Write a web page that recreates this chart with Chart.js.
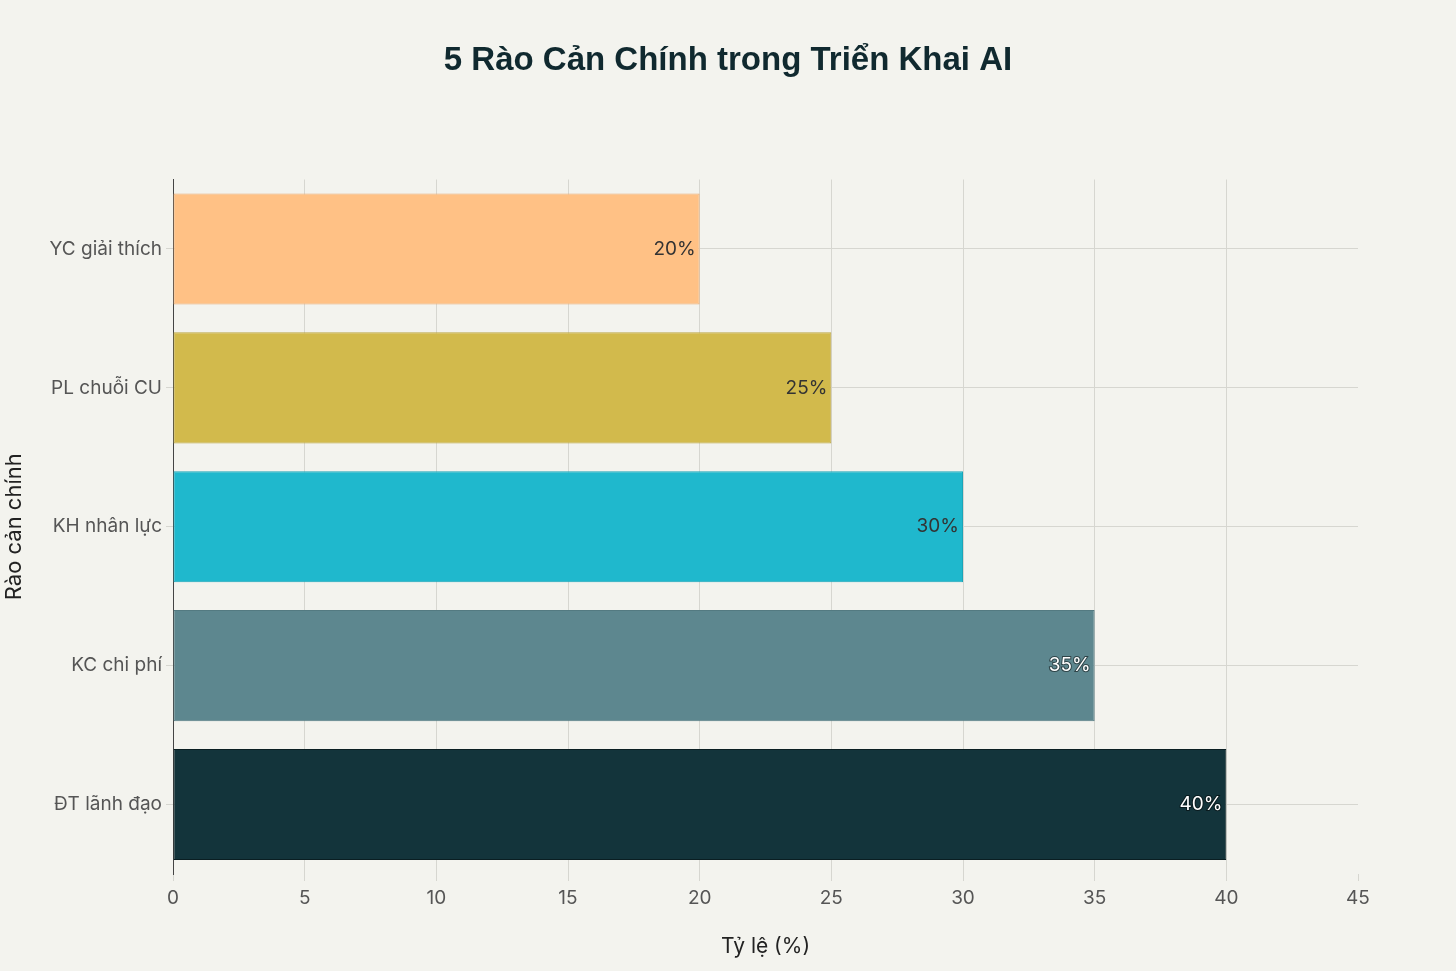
<!DOCTYPE html>
<html lang="vi">
<head>
<meta charset="utf-8">
<title>5 Rào Cản Chính trong Triển Khai AI</title>
<script src="https://cdn.jsdelivr.net/npm/chart.js@4.4.1/dist/chart.umd.min.js"></script>
<style>
    html, body { margin: 0; padding: 0; background: #f3f3ee; }
    #wrap { width: 1456px; height: 971px; }
</style>
</head>
<body>
<div id="wrap"><canvas id="myChart" width="1456" height="971"></canvas></div>
<script>
// data, top to bottom as shown in the chart
const chartTitle = '5 Rào Cản Chính trong Triển Khai AI';
const categories = ['YC giải thích', 'PL chuỗi CU', 'KH nhân lực', 'KC chi phí', 'ĐT lãnh đạo'];
const values = [20, 25, 30, 35, 40];
const barColors = ['#FFC185', '#D2BA4C', '#1FB8CD', '#5D878F', '#13343B'];
const borderColors = ['#e9ad76', '#bca642', '#1aa5b8', '#537a81', '#0a1e22'];
const labelColors = ['#333333', '#333333', '#333333', '#ffffff', '#ffffff'];
const xTicks = [0, 5, 10, 15, 20, 25, 30, 35, 40, 45];

const tickFont = { family: "'Inter', sans-serif", size: 19 };

// writes the value at the inside end of each bar
const barLabels = {
    id: 'barLabels',
    afterDatasetsDraw(chart) {
        const ctx = chart.ctx;
        const meta = chart.getDatasetMeta(0);
        ctx.save();
        ctx.font = "19px 'Inter', sans-serif";
        ctx.textAlign = 'right';
        ctx.textBaseline = 'middle';
        meta.data.forEach((bar, i) => {
            const text = values[i] + '%';
            const x = bar.x - 4;
            const y = bar.y;
            if (labelColors[i] === '#ffffff') {
                ctx.lineWidth = 2;
                ctx.strokeStyle = 'rgba(0,0,0,0.5)';
                ctx.strokeText(text, x, y);
            }
            ctx.fillStyle = labelColors[i];
            ctx.fillText(text, x, y);
        });
        ctx.restore();
    }
};

// background + title centred on the whole page
const bgPlugin = {
    id: 'bg',
    beforeDraw(chart) {
        const ctx = chart.ctx;
        ctx.save();
        ctx.fillStyle = '#f3f3ee';
        ctx.fillRect(0, 0, chart.width, chart.height);
        ctx.restore();
    },
    afterDraw(chart) {
        const ctx = chart.ctx;
        ctx.save();
        ctx.font = "bold 33px 'Liberation Sans', Arial, sans-serif";
        ctx.fillStyle = '#10292f';
        ctx.textAlign = 'center';
        ctx.textBaseline = 'middle';
        ctx.fillText(chartTitle, chart.width / 2, 61);
        ctx.restore();
    }
};

new Chart(document.getElementById('myChart').getContext('2d'), {
    type: 'bar',
    data: {
        labels: categories,
        datasets: [{
            data: values,
            backgroundColor: barColors,
            borderColor: borderColors,
            borderWidth: 1,
            borderSkipped: false,
            barPercentage: 0.8,
            categoryPercentage: 1.0
        }]
    },
    options: {
        indexAxis: 'y',
        responsive: false,
        animation: false,
        devicePixelRatio: 1,
        layout: { padding: { left: 0, right: 98, top: 179.5, bottom: 0 } },
        plugins: {
            legend: { display: false },
            tooltip: { enabled: false },
            title: { display: false }
        },
        scales: {
            x: {
                min: 0,
                max: 45,
                afterBuildTicks(scale) {
                    scale.ticks = xTicks.map(v => ({ value: v }));
                },
                afterFit(scale) { scale.height = 97; },
                grid: {
                    color: ctx => (ctx.tick && (ctx.tick.value === 45 || ctx.tick.value === 0)) ? 'rgba(0,0,0,0)' : '#d6d6d0',
                    tickColor: '#d6d6d0',
                    tickLength: 7,
                    lineWidth: 1
                },
                border: { display: false },
                ticks: { color: '#555555', font: tickFont, padding: 6 },
                title: {
                    display: true,
                    text: 'Tỷ lệ (%)',
                    color: '#222222',
                    font: { family: "'Inter', sans-serif", size: 21, lineHeight: 1.2 },
                    padding: { top: 0, bottom: 12 }
                }
            },
            y: {
                afterFit(scale) { scale.width = 173; },
                grid: {
                    offset: false,
                    color: '#d6d6d0',
                    tickColor: '#d6d6d0',
                    tickLength: 7,
                    lineWidth: 1
                },
                border: { display: true, color: '#444444', width: 1 },
                ticks: { color: '#555555', font: tickFont, padding: 4 },
                title: {
                    display: true,
                    text: 'Rào cản chính',
                    color: '#222222',
                    font: { family: "'Inter', sans-serif", size: 22, lineHeight: 1.2 },
                    padding: { top: 1, bottom: 0 }
                }
            }
        }
    },
    plugins: [bgPlugin, barLabels]
});
</script>
</body>
</html>
